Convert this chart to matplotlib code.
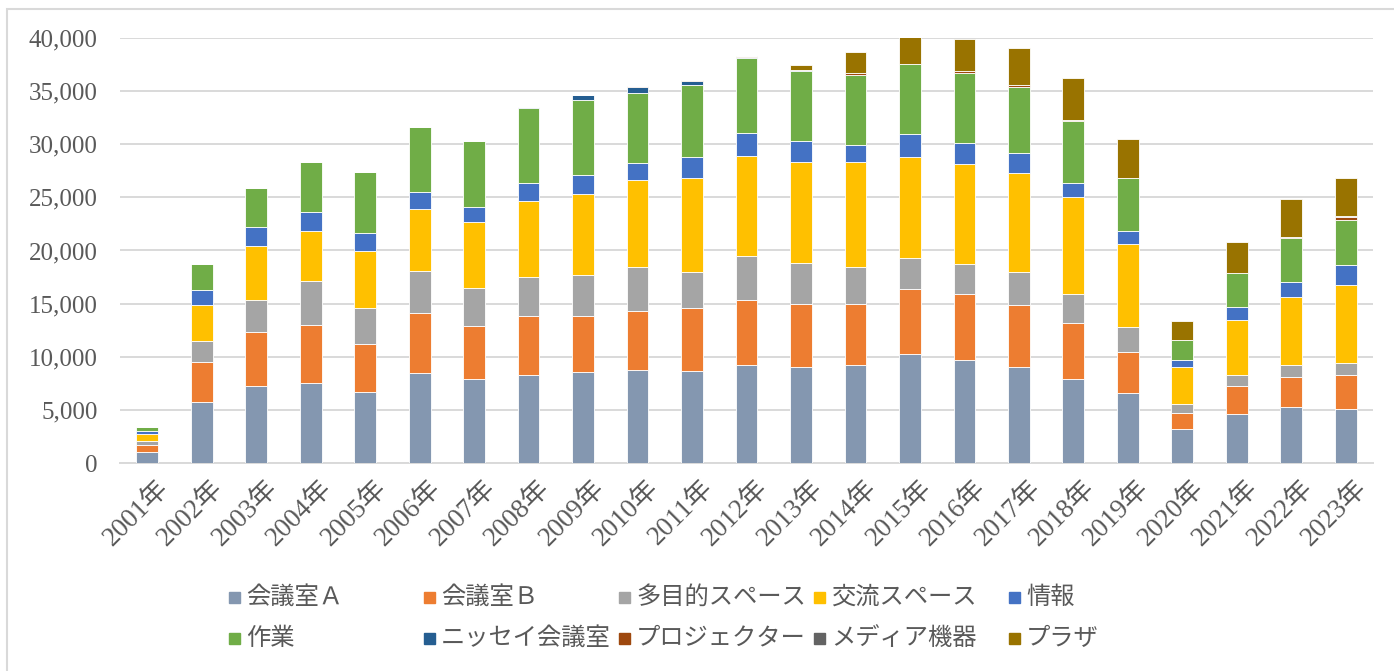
import matplotlib.pyplot as plt
import numpy as np
from matplotlib.patches import Rectangle
from matplotlib.ticker import FuncFormatter
from matplotlib.transforms import ScaledTranslation

plt.rcParams['font.family'] = ['Liberation Serif', 'Noto Sans CJK JP']

years = [f'{y}年' for y in range(2001, 2024)]

kaigi_a = [1000, 5740, 7250, 7530, 6650, 8470, 7900, 8280, 8530, 8780, 8660, 9250,
           9070, 9190, 10230, 9690, 9000, 7900, 6560, 3170, 4610, 5240, 5050]
kaigi_b = [700, 3730, 5050, 5460, 4520, 5620, 4960, 5550, 5300, 5490, 5960, 6090,
           5860, 5770, 6120, 6240, 5900, 5270, 3890, 1540, 2600, 2820, 3200]
tamokuteki = [380, 1980, 3070, 4110, 3450, 3950, 3580, 3670, 3860, 4200, 3330, 4110,
              3860, 3480, 2920, 2820, 3070, 2700, 2320, 880, 1040, 1160, 1190]
koryu = [630, 3420, 5020, 4700, 5300, 5900, 6270, 7150, 7650, 8130, 8850, 9440,
         9570, 9910, 9570, 9410, 9350, 9160, 7810, 3450, 5180, 6370, 7340]
joho = [280, 1380, 1790, 1820, 1730, 1570, 1410, 1690, 1760, 1630, 1980, 2130,
        1980, 1540, 2100, 1980, 1850, 1290, 1220, 630, 1260, 1410, 1820]
sagyo = [380, 2480, 3700, 4740, 5740, 6120, 6210, 7030, 7030, 6590, 6840, 7090,
         6520, 6590, 6650, 6560, 6240, 5870, 4990, 1950, 3230, 4140, 4300]
nissei = [0, 0, 0, 0, 0, 0, 0, 100, 470, 560, 320, 100,
          150, 0, 0, 0, 0, 0, 0, 0, 0, 0, 0]
projector = [0, 0, 0, 0, 0, 0, 0, 0, 80, 130, 150, 60,
             0, 220, 0, 150, 150, 120, 0, 0, 0, 150, 250]
media = [0, 0, 0, 0, 0, 0, 0, 0, 0, 0, 0, 60,
         0, 0, 0, 0, 0, 0, 0, 0, 0, 0, 60]
plaza = [0, 0, 0, 0, 0, 0, 0, 0, 0, 0, 0, 0,
         450, 2010, 2570, 3050, 3460, 3930, 3730, 1790, 2860, 3580, 3580]

names = ['会議室Ａ', '会議室Ｂ', '多目的スペース', '交流スペース', '情報',
         '作業', 'ニッセイ会議室', 'プロジェクター', 'メディア機器', 'プラザ']
series = [kaigi_a, kaigi_b, tamokuteki, koryu, joho,
          sagyo, nissei, projector, media, plaza]
colors = ['#8497B0', '#ED7D31', '#A5A5A5', '#FFC000', '#4472C4',
          '#70AD47', '#255E91', '#9E480E', '#636363', '#997300']

W, H = 1394, 671
fig = plt.figure(figsize=(W / 100, H / 100), dpi=100)
ax = fig.add_axes([120 / W, 1 - 463 / H, (1373 - 120) / W, (463 - 38) / H])

x = np.arange(len(years))
bottom = np.zeros(len(years))
for vals, c in zip(series, colors):
    vals = np.array(vals, dtype=float)
    ax.bar(x, vals, 0.4, bottom=bottom, color=c, edgecolor='white', linewidth=0.6, zorder=3)
    bottom += vals

ax.set_xlim(-0.5, len(years) - 0.5)
ax.set_ylim(0, 40000)
ax.set_yticks(np.arange(0, 40001, 5000))
ax.yaxis.set_major_formatter(FuncFormatter(lambda v, p: f'{int(v):,}'))
ax.grid(axis='y', color='#D9D9D9', linewidth=1.4, zorder=0)
for s in ['top', 'right', 'left']:
    ax.spines[s].set_visible(False)
ax.spines['bottom'].set_color('#D9D9D9')
ax.spines['bottom'].set_linewidth(1.4)
ax.tick_params(axis='y', length=0, pad=16, labelsize=18, labelcolor='#595959')
ax.tick_params(axis='x', length=0, pad=9, labelsize=19.5, labelcolor='#595959')
ax.set_xticks(x)
ax.set_xticklabels(years, rotation=45, ha='right', va='top', rotation_mode='anchor')
shift = ScaledTranslation(9 / 100, 0, fig.dpi_scale_trans)
for lbl in ax.get_xticklabels():
    lbl.set_transform(lbl.get_transform() + shift)

# legend laid out like Excel: equal-width columns, two rows
for i, (name, c) in enumerate(zip(names, colors)):
    row, col = divmod(i, 5)
    px = 229 + col * 195
    py = 597 + row * 41
    fig.add_artist(Rectangle((px / W, 1 - (py + 5.5) / H), 11 / W, 11 / H,
                             transform=fig.transFigure, color=c))
    fig.text((px + 17) / W, 1 - py / H, name, fontsize=17.5, color='#595959',
             va='center', ha='left', family=['Noto Sans CJK JP'])

# chart area border
fig.add_artist(Rectangle((7 / W, -0.05), 1.1, 1 - 9 / H + 0.05, transform=fig.transFigure,
                         fill=False, edgecolor='#D9D9D9', linewidth=1.5))

fig.savefig('out.png', dpi=100)
